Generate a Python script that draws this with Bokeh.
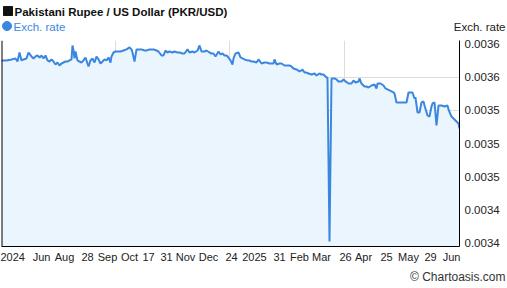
from bokeh.plotting import figure
from bokeh.layouts import column
from bokeh.models import Range1d, FixedTicker, Span, Label
from bokeh.embed import file_html
from bokeh.resources import INLINE

# observation index (chart spans ~1 year of daily rates)
obs = [0, 5, 10, 14, 16, 18, 20, 22, 25, 27, 30, 32, 34, 36, 38, 40, 42, 44, 46, 48,
       50, 52, 54, 56, 58, 60, 62, 64, 66, 68, 70, 71, 72, 73, 74, 76, 78, 80, 82, 84,
       86, 87, 89, 91, 93, 95, 97, 99, 101, 103, 105, 107, 109, 110, 112, 114, 116, 119, 122, 125,
       128, 130, 131, 133, 135, 138, 140, 143, 145, 148, 152, 155, 157, 160, 162, 164, 166, 168, 171, 173,
       176, 178, 181, 183, 186, 188, 191, 193, 196, 198, 200, 203, 205, 208, 210, 212, 214, 217, 219, 221,
       223, 225, 227, 229, 231, 232, 234, 237, 239, 241, 243, 246, 248, 250, 252, 255, 257, 260, 263, 265,
       268, 270, 272, 273, 275, 278, 280, 283, 285, 288, 290, 292, 295, 298, 300, 301, 303, 305, 307, 310,
       313, 315, 318, 320, 322, 325, 326, 328, 330, 333, 335, 337, 340, 342, 344, 347, 350, 352, 354, 357,
       358, 360, 363, 365, 367, 370, 373, 375, 376, 379, 382, 384, 386, 388, 390, 392, 393, 395, 398, 400,
       403, 405, 407, 409, 411, 413, 414, 416, 418, 420, 422, 423, 426, 428, 430, 431, 433, 435, 437, 440,
       443, 446, 447, 450, 453, 455, 457, 458]

rate = [0.0035655, 0.0035655, 0.0035664, 0.0035673, 0.0035645, 0.0035727, 0.0035655, 0.0035664, 0.0035673, 0.0035727,
        0.0035691, 0.0035673, 0.0035691, 0.0035700, 0.0035682, 0.0035700, 0.0035673, 0.0035700, 0.0035655, 0.0035645,
        0.0035664, 0.0035645, 0.0035618, 0.0035636, 0.0035609, 0.0035627, 0.0035636, 0.0035645, 0.0035645, 0.0035655,
        0.0035664, 0.0035791, 0.0035745, 0.0035673, 0.0035736, 0.0035655, 0.0035645, 0.0035636, 0.0035655, 0.0035682,
        0.0035627, 0.0035600, 0.0035655, 0.0035673, 0.0035636, 0.0035691, 0.0035664, 0.0035627, 0.0035645, 0.0035664,
        0.0035655, 0.0035682, 0.0035636, 0.0035691, 0.0035727, 0.0035736, 0.0035736, 0.0035736, 0.0035745, 0.0035755,
        0.0035773, 0.0035755, 0.0035727, 0.0035645, 0.0035755, 0.0035755, 0.0035755, 0.0035745, 0.0035745, 0.0035755,
        0.0035755, 0.0035745, 0.0035736, 0.0035700, 0.0035700, 0.0035745, 0.0035727, 0.0035736, 0.0035727, 0.0035736,
        0.0035727, 0.0035727, 0.0035718, 0.0035718, 0.0035755, 0.0035727, 0.0035736, 0.0035727, 0.0035745, 0.0035791,
        0.0035736, 0.0035736, 0.0035745, 0.0035727, 0.0035718, 0.0035718, 0.0035691, 0.0035736, 0.0035709, 0.0035718,
        0.0035700, 0.0035700, 0.0035682, 0.0035655, 0.0035618, 0.0035673, 0.0035718, 0.0035727, 0.0035682, 0.0035673,
        0.0035664, 0.0035655, 0.0035655, 0.0035645, 0.0035645, 0.0035636, 0.0035664, 0.0035627, 0.0035636, 0.0035636,
        0.0035627, 0.0035627, 0.0035627, 0.0035664, 0.0035618, 0.0035627, 0.0035627, 0.0035609, 0.0035609, 0.0035609,
        0.0035600, 0.0035582, 0.0035573, 0.0035555, 0.0035564, 0.0035573, 0.0035545, 0.0035545, 0.0035536, 0.0035527,
        0.0035536, 0.0035518, 0.0035536, 0.0035527, 0.0035527, 0.0035500, 0.0035500, 0.0034009, 0.0035491, 0.0035491,
        0.0035482, 0.0035464, 0.0035464, 0.0035482, 0.0035464, 0.0035445, 0.0035445, 0.0035473, 0.0035455, 0.0035464,
        0.0035491, 0.0035445, 0.0035418, 0.0035418, 0.0035409, 0.0035427, 0.0035436, 0.0035400, 0.0035445, 0.0035445,
        0.0035427, 0.0035400, 0.0035391, 0.0035382, 0.0035373, 0.0035364, 0.0035355, 0.0035273, 0.0035273, 0.0035273,
        0.0035273, 0.0035273, 0.0035364, 0.0035364, 0.0035364, 0.0035309, 0.0035318, 0.0035182, 0.0035182, 0.0035273,
        0.0035282, 0.0035245, 0.0035155, 0.0035145, 0.0035236, 0.0035264, 0.0035273, 0.0035064, 0.0035245, 0.0035245,
        0.0035236, 0.0035245, 0.0035209, 0.0035145, 0.0035118, 0.0035100, 0.0035082, 0.0035036]

y_ticks = [0.00340, 0.00343, 0.00346, 0.00349, 0.00352, 0.00355, 0.00358]
y_tick_labels = ["0.0034", "0.0034", "0.0035", "0.0035", "0.0035", "0.0036", "0.0036"]

x_ticks = [11, 40, 63, 86, 106, 128, 147, 165, 184, 207, 230, 253, 278, 298, 320, 344, 362, 385, 407, 429, 450]
x_tick_labels = ["2024", "Jun", "Aug", "28", "Sep", "Oct", "17", "31", "Nov", "Dec", "24",
                 "2025", "31", "Feb", "Mar", "26", "Apr", "25", "May", "29", "Jun"]
x_grid = [114, 228, 343]

TITLE = "Pakistani Rupee / US Dollar (PKR/USD)"
SERIES = "Exch. rate"
AXIS_NAME = "Exch. rate"
CREDIT = "© Chartoasis.com"

Y_MIN, Y_MAX = 0.0033964, 0.0035836
FONT = "Liberation Sans"
BLUE = "#3A87DF"


def strip(h):
    f = figure(width=507, height=h, output_backend="svg", toolbar_location=None,
               x_range=Range1d(0, 507), y_range=Range1d(h, 0),
               x_axis_type=None, y_axis_type=None, min_border=0)
    f.outline_line_color = None
    return f


# ---------- header (title + legend) ----------
head = strip(32)
head.scatter(x=[7.5], y=[10.5], marker="square", size=9, color="#111111")
head.scatter(x=[6.5], y=[25.5], marker="circle", size=9, color=BLUE)
head.add_layout(Label(x=14, y=11, text=TITLE, text_font=FONT, text_font_size="11.5px",
                      text_font_style="bold", text_color="#111111",
                      text_baseline="middle", text_align="left"))
head.add_layout(Label(x=13, y=26, text=SERIES, text_font=FONT, text_font_size="11.5px",
                      text_color=BLUE, text_baseline="middle", text_align="left"))
head.add_layout(Label(x=505, y=26, text=AXIS_NAME, text_font=FONT, text_font_size="11.5px",
                      text_color="#222222", text_baseline="middle", text_align="right"))

# ---------- main chart ----------
p = figure(width=507, height=236, output_backend="svg", toolbar_location=None,
           y_axis_location="right",
           x_range=Range1d(0, 458), y_range=Range1d(Y_MIN, Y_MAX),
           min_border_left=1, min_border_right=48, min_border_top=8, min_border_bottom=22)
p.outline_line_color = None

p.varea(x=obs, y1=Y_MIN, y2=rate, fill_color="#EBF5FE")
p.line(obs, rate, line_color=BLUE, line_width=2)

p.yaxis.ticker = FixedTicker(ticks=y_ticks)
p.yaxis.major_label_overrides = {t: l for t, l in zip(y_ticks, y_tick_labels)}
p.xaxis.ticker = FixedTicker(ticks=x_ticks)
p.xaxis.major_label_overrides = {t: l for t, l in zip(x_ticks, x_tick_labels)}
for ax in (p.xaxis[0], p.yaxis[0]):
    ax.axis_line_color = "black"
    ax.axis_line_width = 1
    ax.major_tick_line_color = None
    ax.minor_tick_line_color = None
    ax.major_tick_out = 0
    ax.major_tick_in = 0
    ax.major_label_text_font = FONT
    ax.major_label_text_color = "#222222"
    ax.major_label_standoff = 5
p.yaxis.major_label_text_font_size = "11.5px"
p.xaxis.major_label_text_font_size = "11px"
p.xaxis.major_label_standoff = 4

p.xgrid.ticker = FixedTicker(ticks=x_grid)
p.ygrid.ticker = FixedTicker(ticks=y_ticks[:-1])
p.xgrid.grid_line_color = "#dddddd"
p.ygrid.grid_line_color = "#dddddd"

p.add_layout(Span(location=0, dimension="height", line_color="black", line_width=2))

# ---------- footer (credit) ----------
foot = strip(20)
foot.add_layout(Label(x=505, y=8, text=CREDIT, text_font=FONT, text_font_size="12px",
                      text_color="#333333", text_baseline="middle", text_align="right"))

layout = column(column(head), column(p), column(foot), spacing=0)
open("out.html", "w").write(file_html(layout, INLINE))
